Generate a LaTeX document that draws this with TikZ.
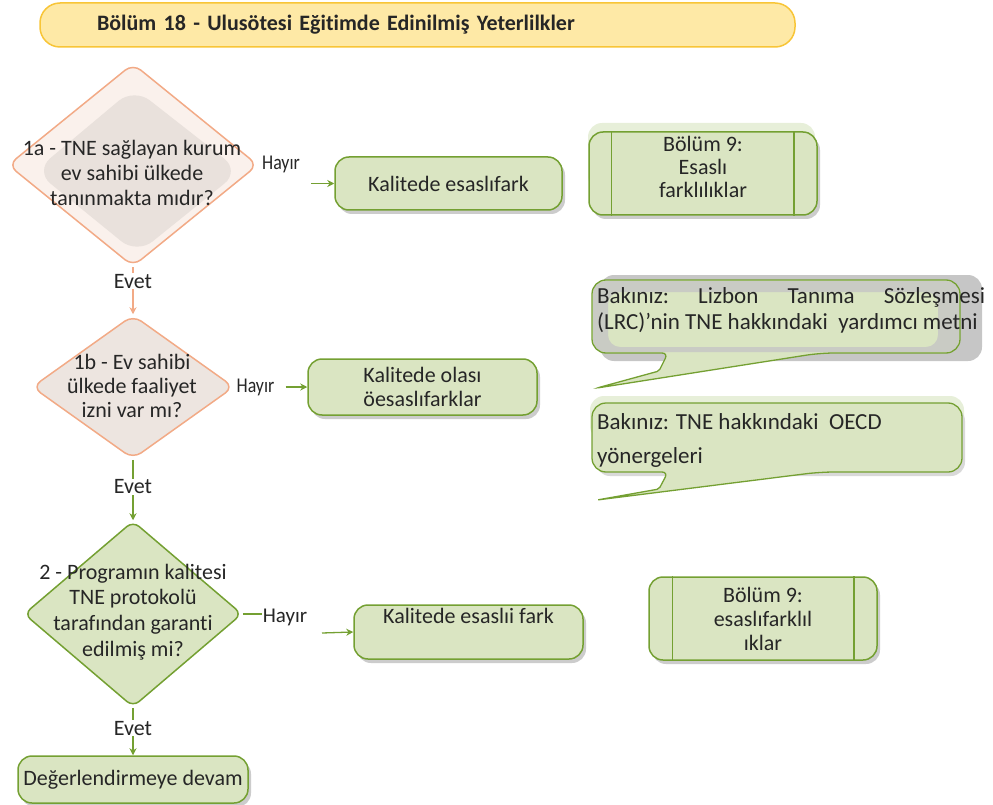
\documentclass[tikz,border=0pt]{standalone}
\usepackage{fontspec}
\setmainfont{Carlito}[Ligatures=NoCommon]
\newfontfamily\narrowfont[FakeStretch=0.85,Ligatures=NoCommon]{Carlito}
\usetikzlibrary{shapes.geometric,arrows.meta,shadows,calc}
\newcommand{\fsz}[2]{\fontsize{#1}{#2}\selectfont}
\definecolor{tfill}{HTML}{FEE9A6}
\definecolor{tdraw}{HTML}{F8C537}
\definecolor{gfill}{HTML}{DAE5C2}
\definecolor{gglow}{HTML}{E7EFD9}
\definecolor{gdraw}{HTML}{74A032}
\definecolor{sdraw}{HTML}{F2AA86}
\definecolor{pfill}{HTML}{FAF1EC}
\definecolor{pinner}{HTML}{E9E1DC}
\definecolor{ptwo}{HTML}{EDE5E0}
\definecolor{txt}{HTML}{262626}
\definecolor{cgray}{HTML}{C9CBC4}
\tikzset{
  gbox/.style={draw=gdraw, line width=1.5pt, fill=gfill, rounded corners=14pt,
    drop shadow={shadow xshift=3pt, shadow yshift=-4pt, fill=black!25, opacity=.8},
    inner sep=2pt, font=\fsz{22}{25}, text=txt, align=center},
  dia/.style={shape=diamond, line width=1.5pt, rounded corners=10pt, inner sep=0pt},
  dtext/.style={font=\fsz{22}{25}, text=txt, align=center, inner sep=0pt},
  lbl/.style={font=\fsz{22}{25}, text=txt, inner sep=1pt},
  garrow/.style={draw=gdraw, line width=1.3pt, -{Stealth[length=7pt,width=7pt]}},
  gline/.style={draw=gdraw, line width=1.3pt},
  sarrow/.style={draw=sdraw, line width=1.3pt, -{Stealth[length=7pt,width=7pt]}},
  procline/.style={draw=gdraw, line width=1.5pt}
}
\def\calloutA{(592,316) [rounded corners=14pt] -- (592,280) -- (960,280) -- (960,353) -- (820,353) [rounded corners=2pt] -- (597,388) -- (659,371) [rounded corners=6pt] -- (668,353) [rounded corners=14pt] -- (592,353) -- cycle}
\def\calloutB{(592,437) [rounded corners=14pt] -- (592,403) -- (962,403) -- (962,472) -- (820,472) [rounded corners=2pt] -- (597,500) -- (659,489) [rounded corners=6pt] -- (668,472) [rounded corners=14pt] -- (592,472) -- cycle}
\begin{document}
\begin{tikzpicture}[x=1pt,y=-1pt]
\useasboundingbox (0,0) rectangle (993,805);

% title
\node[draw=tdraw, fill=tfill, line width=1.5pt, rounded corners=20pt,
  minimum height=44pt, text width=755pt, inner xsep=0pt, align=left,
  font=\fsz{22}{25}\bfseries, text=txt] (title) at (417.5,25)
  {\hspace*{57pt}Bölüm 18 - Ulusötesi Eğitimde Edinilmiş Yeterlilkler};

% diamond 1a
\node[dia, draw=sdraw, fill=pfill, minimum width=250pt, minimum height=203pt] (d1a) at (133,165) {};
\fill[pinner, rounded corners=20pt] (134,88) -- (240,171) -- (137,254) -- (35,171) -- cycle;
\node[dtext] (t1a) at (132,173) {1a - TNE sağlayan kurum\\ev sahibi ülkede\\tanınmakta mıdır?};

% diamond 1b
\node[dia, draw=sdraw, fill=ptwo, minimum width=202pt, minimum height=144pt] (d1b) at (133,387) {};
\node[dtext, font=\fsz{22}{24}] (t1b) at (132,386) {1b - Ev sahibi\\ülkede faaliyet\\izni var mı?};

% diamond 2
\node[dia, draw=gdraw, fill=gfill, minimum width=218pt, minimum height=186pt, rounded corners=8pt] (d2) at (133,614) {};
\node[dtext, font=\fsz{22}{25.7}] (t2) at (133,612) {2 - Programın kalitesi\\TNE protokolü\\tarafından garanti\\edilmiş mi?};

% boxes
\fill[gglow, rounded corners=14pt] (588,123) rectangle (815,190);
\node[gbox, minimum width=228pt, minimum height=83pt, font=\fsz{22}{23}] (b9a) at (703,173.5) {Bölüm 9:\\Esaslı\\farklılıklar\\[-16pt]\strut};
\draw[procline] ($(b9a.north west)+(23,0)$) -- ($(b9a.south west)+(23,0)$);
\draw[procline] ($(b9a.north east)+(-24,0)$) -- ($(b9a.south east)+(-24,0)$);

\node[gbox, minimum width=227pt, minimum height=53pt] (k1) at (448.5,183.5) {Kalitede esaslıfark};

\node[gbox, minimum width=229pt, minimum height=56pt, font=\fsz{22}{24}] (k2) at (422.5,387) {Kalitede olası\\öesaslıfarklar};

\node[gbox, minimum width=229pt, minimum height=54pt, font=\fsz{22}{25}] (k3) at (468.5,632) {Kalitede esaslıi fark\\\strut};

\node[gbox, minimum width=228pt, minimum height=83pt, font=\fsz{22}{24}] (b9b) at (763,618.5) {Bölüm 9:\\esaslıfarklıl\\ıklar};
\draw[procline] ($(b9b.north west)+(24,0)$) -- ($(b9b.south west)+(24,0)$);
\draw[procline] ($(b9b.north east)+(-24,0)$) -- ($(b9b.south east)+(-24,0)$);

\node[gbox, minimum width=230pt, minimum height=47pt] (dv) at (133,779.5) {Değerlendirmeye devam};

% callouts
\fill[gray!45, rounded corners=14pt] (600,275) rectangle (982,361);
\fill[gfill] \calloutA;
\fill[cgray, even odd rule, rounded corners=12pt] (593,281) rectangle (959,352) (608,292) rectangle (938,347);
\draw[gdraw, line width=1.3pt] \calloutA;
\node[anchor=west, font=\fsz{23}{26}, align=left, text=txt, inner sep=0pt] (c1) at (597,310)
  {\makebox[388pt][l]{Bakınız:\hfill Lizbon\hfill Tanıma\hfill Sözleşmesi}\\(LRC)'nin TNE hakkındaki\ \ yardımcı metni};

\fill[gglow, rounded corners=14pt] (590,396) rectangle (964,440);
\fill[gray!30, rounded corners=14pt] (596,407) rectangle (965,476);
\fill[gfill] \calloutB;
\draw[gdraw, line width=1.3pt] \calloutB;
\node[anchor=west, font=\fsz{23}{34}, align=left, text=txt, inner sep=0pt] (c2) at (597,440)
  {Bakınız: TNE hakkındaki\ \ OECD\\yönergeleri};

% connectors
\node[lbl, font=\narrowfont\fsz{21}{22}] (h1a) at (281,164) {Hayır};
\coordinate (a1) at (311,183.5);
\draw[garrow] (a1) -- (k1.west);

\draw[sarrow] (d1a.south) -- node[lbl, pos=0.3, fill=white] (e1) {Evet} (d1b.north);

\node[lbl, font=\narrowfont\fsz{21}{22}] (h1b) at (255.5,387) {Hayır};
\draw[garrow, shorten <=10pt] (h1b) -- (k2);

\draw[garrow] (d1b.south) -- node[lbl, pos=0.45, fill=white] (e2) {Evet} (d2.north);

\node[lbl, font=\fsz{21}{22}] (h2) at (285,617) {Hayır};
\draw[gline] (d2.east) -- (d2.east -| h2.west);
\coordinate (a3) at (322,633);
\draw[garrow] (a3) -- (k3.west);

\draw[garrow] (d2.south) -- node[lbl, pos=0.43, fill=white] (e3) {Evet} (dv.north);
\end{tikzpicture}
\end{document}
